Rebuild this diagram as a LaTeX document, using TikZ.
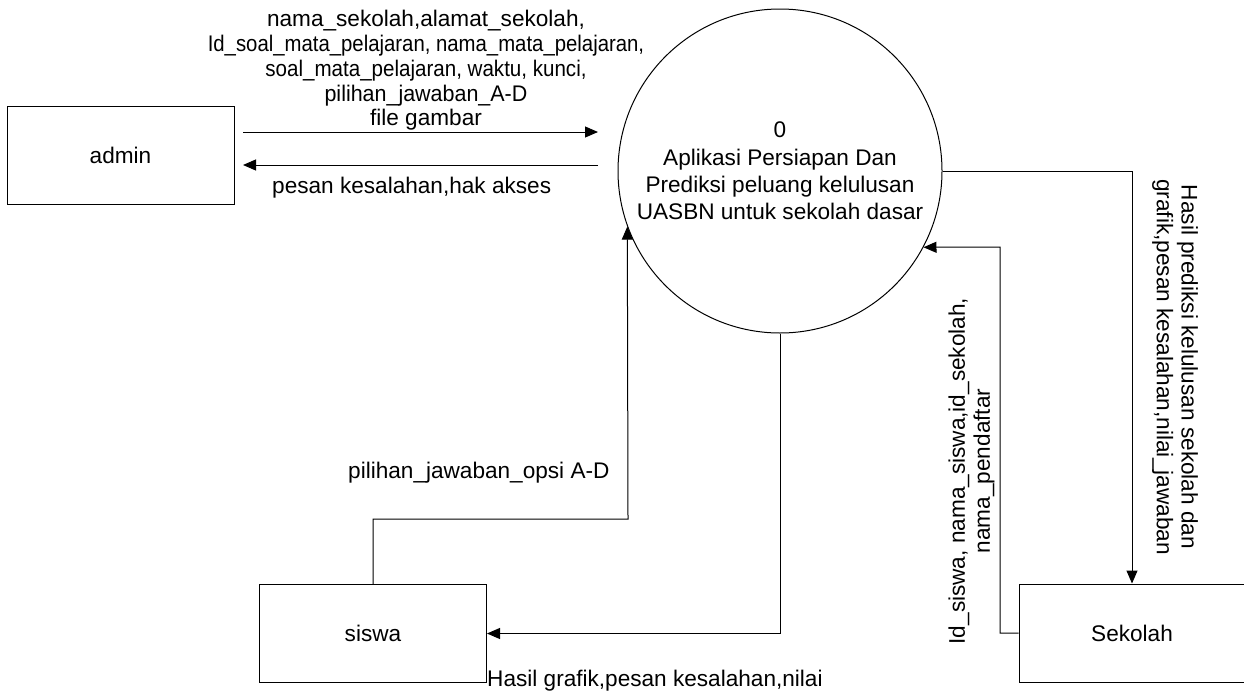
\documentclass[tikz,border=0pt]{standalone}
\usepackage{fontspec}
\setmainfont{Liberation Sans}
\usetikzlibrary{arrows.meta}
\begin{document}
\begin{tikzpicture}[x=1pt,y=-1pt,
  ent/.style={draw, line width=1pt, minimum width=227pt, minimum height=98pt, inner sep=0pt, font=\fontsize{22.6}{23.3}\selectfont},
  proc/.style={draw, circle, line width=1pt, minimum size=324pt, inner sep=0pt, align=center, font=\fontsize{22.6}{27.3}\selectfont},
  flow/.style={line width=1pt, -{Triangle[length=13pt,width=11pt]}},
  lbl/.style={inner sep=0pt, font=\fontsize{22.6}{23.3}\selectfont, align=center},
  lblw/.style={inner sep=0pt, font=\fontsize{22.6}{24.8}\selectfont, align=center}]
\fill[white] (0,0) rectangle (1244,696);
\useasboundingbox (0,0) rectangle (1244,696);
\begin{scope}
\clip (0,0) rectangle (1244,696);
\node[ent] (admin) at (120.5,155) {admin};
\node[ent] (siswa) at (373,633.5) {siswa};
\node[ent, minimum width=226pt] (sekolah) at (1132,633) {Sekolah};
\end{scope}
\node[proc] (p0) at (780,171) {0\\Aplikasi Persiapan Dan\\Prediksi peluang kelulusan\\UASBN untuk sekolah dasar};

\coordinate (a1s) at (243,132);
\coordinate (a1e) at (598,132);
\coordinate (a2s) at (598,165);
\coordinate (a2e) at (243,165);
\draw[flow] (a1s) -- (a1e);
\draw[flow] (a2s) -- (a2e);

\draw[flow] (siswa.north) |- (628,519) -- (p0.200.2);
\draw[flow] (p0.south) |- (siswa.east);
\draw[flow] (p0.east) -| (sekolah.north);
\draw[flow] (sekolah.west) -| (1000,247) -- (p0.-28);

\node[lblw] (tl) at (426,70.5) {nama\_sekolah,alamat\_sekolah,\\\scalebox{0.9}[1]{Id\_soal\_mata\_pelajaran, nama\_mata\_pelajaran,}\\\scalebox{0.91}[1]{soal\_mata\_pelajaran, waktu, kunci,}\\\scalebox{0.95}[1]{pilihan\_jawaban\_A-D}\\file gambar};
\node[lbl, anchor=base west] (bl) at (272,193) {pesan kesalahan,hak akses};
\node[lbl, anchor=base west] (pl) at (348,478) {pilihan\_jawaban\_opsi A-D};
\node[lbl, anchor=base west] (hl) at (487,686) {Hasil grafik,pesan kesalahan,nilai};
\node[lblw, rotate=-90] (rl) at (1175,367) {Hasil prediksi kelulusan sekolah dan\\grafik,pesan kesalahan,nilai\_jawaban};
\node[lblw, rotate=90] (ll) at (971.5,471) {Id\_siswa, nama\_siswa,id\_sekolah,\\nama\_pendaftar};
\end{tikzpicture}
\end{document}
